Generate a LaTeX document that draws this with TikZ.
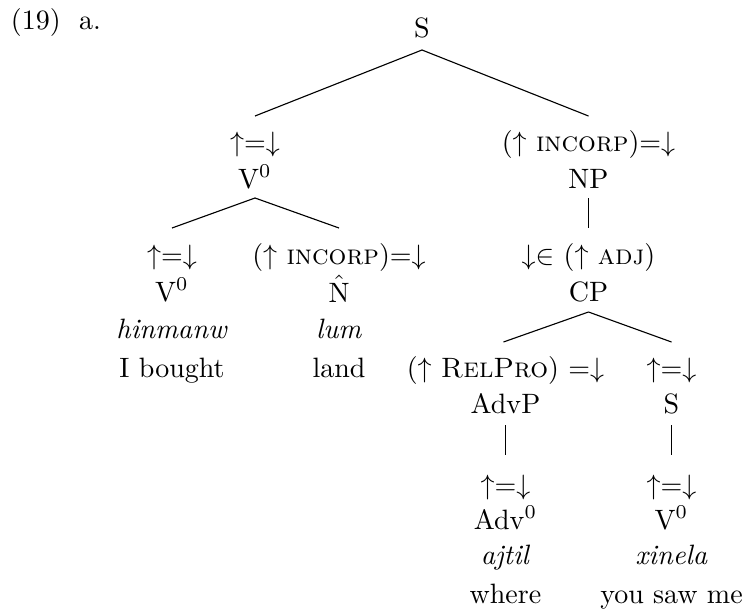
\documentclass[tikz,border=0pt]{standalone}
\usetikzlibrary{calc}
\begin{document}
\begin{tikzpicture}[x=0.3571pt,y=-0.3571pt,
  lbl/.style={anchor=base,inner sep=0pt,outer sep=0pt},
  edge/.style={line width=0.4pt}]
\useasboundingbox (0,0) rectangle (747,612);
% example number
\node[lbl,anchor=base west] (exnum) at (11,30) {(19)};
\node[lbl,anchor=base west] (exlet) at (79,30) {a.};
% root
\node[lbl] (S) at (422,38) {S};
% level 1
\node[lbl] (a1) at (255,151) {$\uparrow$=$\downarrow$};
\node[lbl] (c1) at (255,188) {V$^0$};
\node[lbl] (a2) at (588.5,151) {($\uparrow$ \textsc{incorp})=$\downarrow$};
\node[lbl] (c2) at (588.5,188) {NP};
% level 2 left
\node[lbl] (a11) at (172,264) {$\uparrow$=$\downarrow$};
\node[lbl] (c11) at (172,301) {V$^0$};
\node[lbl] (w11) at (172,338) {\textit{hinmanw}};
\node[lbl] (g11) at (172,377) {I bought};
\node[lbl] (a12) at (339,264) {($\uparrow$ \textsc{incorp})=$\downarrow$};
\node[lbl] (c12) at (339,302) {$\hat{\mathrm{N}}$};
\node[lbl] (w12) at (339,338) {\textit{lum}};
\node[lbl] (g12) at (339,377) {land};
% level 2 right
\node[lbl] (a21) at (588.5,264) {$\downarrow\in$ ($\uparrow$ \textsc{adj})};
\node[lbl] (c21) at (588.5,301) {CP};
% level 3
\node[lbl] (a211) at (505.5,377) {($\uparrow$ \textsc{RelPro}) =$\downarrow$};
\node[lbl] (c211) at (505.5,413) {AdvP};
\node[lbl] (a2111) at (505.5,494) {$\uparrow$=$\downarrow$};
\node[lbl] (c2111) at (505.5,529) {Adv$^0$};
\node[lbl] (w2111) at (505.5,564) {\textit{ajtil}};
\node[lbl] (g2111) at (505.5,603) {where};
\node[lbl] (a212) at (671.5,377) {$\uparrow$=$\downarrow$};
\node[lbl] (c212) at (671.5,413) {S};
\node[lbl] (a2121) at (671.5,494) {$\uparrow$=$\downarrow$};
\node[lbl] (c2121) at (671.5,529) {V$^0$};
\node[lbl] (w2121) at (671.5,564) {\textit{xinela}};
\node[lbl] (g2121) at (671.5,603) {you saw me};
% connector end points
\coordinate (S-d) at ($(S.base)+(0,12)$);
\coordinate (a1-u) at ($(a1.base)+(0,-35)$);
\coordinate (a2-u) at ($(a2.base)+(0,-35)$);
\coordinate (c1-d) at ($(c1.base)+(0,10)$);
\coordinate (a11-u) at ($(a11.base)+(0,-36)$);
\coordinate (a12-u) at ($(a12.base)+(0,-36)$);
\coordinate (c2-d) at ($(c2.base)+(0,10)$);
\coordinate (a21-u) at ($(a21.base)+(0,-36)$);
\coordinate (c21-d) at ($(c21.base)+(0,11)$);
\coordinate (a211-u) at ($(a211.base)+(-2,-35)$);
\coordinate (a212-u) at ($(a212.base)+(0,-35)$);
\coordinate (c211-d) at ($(c211.base)+(0,12)$);
\coordinate (a2111-u) at ($(a2111.base)+(0,-39)$);
\coordinate (c212-d) at ($(c212.base)+(0,12)$);
\coordinate (a2121-u) at ($(a2121.base)+(0,-39)$);
% connectors
\draw[edge] (S-d) -- (a1-u);
\draw[edge] (S-d) -- (a2-u);
\draw[edge] (c1-d) -- (a11-u);
\draw[edge] (c1-d) -- (a12-u);
\draw[edge] (c2-d) -- (a21-u);
\draw[edge] (c21-d) -- (a211-u);
\draw[edge] (c21-d) -- (a212-u);
\draw[edge] (c211-d) -- (a2111-u);
\draw[edge] (c212-d) -- (a2121-u);
\end{tikzpicture}
\end{document}
